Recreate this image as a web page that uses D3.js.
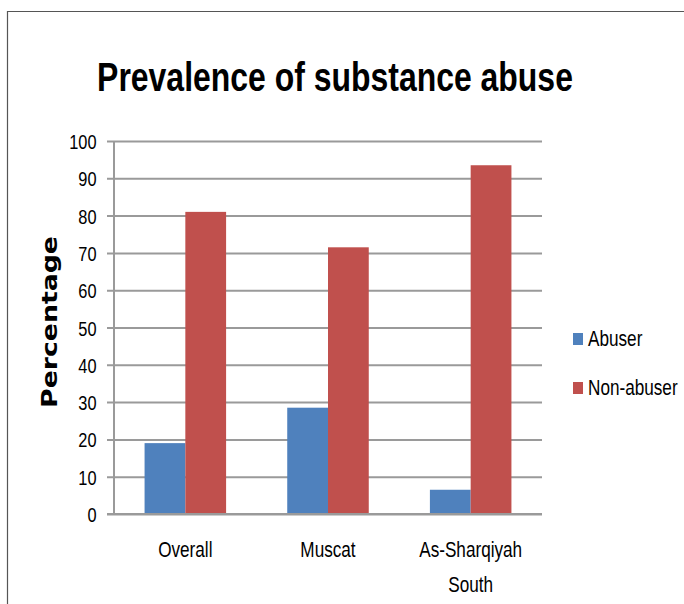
<!DOCTYPE html>
<html>
<head>
<meta charset="utf-8">
<script src="https://cdn.jsdelivr.net/npm/d3@7/dist/d3.min.js"></script>
<style>
  html, body { margin: 0; padding: 0; background: #fff; }
  svg { display: block; }
</style>
</head>
<body>
<svg id="chart" width="684" height="604"></svg>
<script>
// Chart data
const categories = ["Overall", "Muscat", "As-Sharqiyah South"];
const categoryLines = [["Overall"], ["Muscat"], ["As-Sharqiyah", "South"]];
const seriesNames = ["Abuser", "Non-abuser"];
const abuser = [19.0, 28.5, 6.5];
const nonAbuser = [81.0, 71.5, 93.5];
const yTicks = [0, 10, 20, 30, 40, 50, 60, 70, 80, 90, 100];
const colors = ["#4F81BD", "#C0504D"];

const svg = d3.select("#chart");
const sans = "'Liberation Sans', Arial, sans-serif";
const squeeze = 0.78;   // narrow the sans face horizontally

// Outer frame (left and top edges)
svg.append("path")
  .attr("d", "M7.5,604 V11.5 H684")
  .attr("fill", "none")
  .attr("stroke", "#555")
  .attr("stroke-width", 1.2);

const plot = { left: 114, right: 542, top: 141, bottom: 514 };
const gap = 1.5; // gap between groups, as a multiple of one bar width
const inner = gap / (2 + gap);

const x0 = d3.scaleBand().domain(categories).range([plot.left, plot.right])
  .paddingInner(inner).paddingOuter(inner / 2);
const x1 = d3.scaleBand().domain(seriesNames).range([0, x0.bandwidth()]);
const y = d3.scaleLinear().domain([0, 100]).range([plot.bottom, plot.top]);

// Gridlines and value axis
const yAxis = d3.axisLeft(y).tickValues(yTicks).tickSize(-(plot.right - plot.left)).tickSizeOuter(0);
const gy = svg.append("g").attr("transform", `translate(${plot.left},0)`).call(yAxis);
gy.select(".domain").attr("stroke", "#9a9a9a").attr("stroke-width", 2).attr("d", `M0,${plot.top}V${plot.bottom}`);
gy.selectAll(".tick line").attr("stroke", "#9a9a9a").attr("stroke-width", 2).attr("x1", -7);
gy.selectAll(".tick text")
  .attr("x", 0).attr("y", 0).attr("dy", null)
  .attr("transform", `translate(-17.5,7.5) scale(${squeeze},1)`)
  .attr("text-anchor", "end")
  .attr("font-family", sans)
  .attr("font-size", 21)
  .attr("fill", "#000");

// Bars
const rows = categories.map((c, i) => ({ c, vals: [abuser[i], nonAbuser[i]] }));
const groups = svg.append("g").selectAll("g").data(rows).join("g")
  .attr("transform", d => `translate(${x0(d.c)},0)`);
groups.selectAll("rect").data(d => d.vals.map((v, k) => ({ k, v }))).join("rect")
  .attr("x", d => x1(seriesNames[d.k]))
  .attr("width", x1.bandwidth())
  .attr("y", d => y(d.v))
  .attr("height", d => y(0) - y(d.v))
  .attr("fill", d => colors[d.k]);

// Baseline drawn over the bars
svg.append("line")
  .attr("x1", plot.left - 7).attr("x2", plot.right)
  .attr("y1", y(0)).attr("y2", y(0))
  .attr("stroke", "#9a9a9a").attr("stroke-width", 2);

// Category labels (wrapped onto separate lines)
categories.forEach((c, i) => {
  categoryLines[i].forEach((line, j) => {
    svg.append("text")
      .attr("transform", `translate(${x0(c) + x0.bandwidth() / 2},${557 + j * 35}) scale(${squeeze},1)`)
      .attr("text-anchor", "middle")
      .attr("font-family", sans)
      .attr("font-size", 22)
      .attr("fill", "#000")
      .text(line);
  });
});

// Title, narrowed to its set width
const title = svg.append("text")
  .attr("text-anchor", "middle")
  .attr("font-family", sans)
  .attr("font-weight", "bold")
  .attr("font-size", 40)
  .attr("fill", "#000")
  .text("Prevalence of substance abuse");
const titleW = title.node().getComputedTextLength();
title.attr("transform", `translate(335,91) scale(${476 / titleW},1)`);

// Value axis title
const yTitle = svg.append("text")
  .attr("text-anchor", "middle")
  .attr("font-family", "'DejaVu Sans', Verdana, sans-serif")
  .attr("font-weight", "bold")
  .attr("font-size", 22)
  .attr("fill", "#000")
  .text("Percentage");
const yTitleW = yTitle.node().getComputedTextLength();
yTitle.attr("transform", `translate(57,322) rotate(-90) scale(${172 / yTitleW},1)`);

// Legend
const legend = svg.append("g").selectAll("g").data(seriesNames).join("g")
  .attr("transform", (d, i) => `translate(573,${333 + i * 49})`);
legend.append("rect").attr("width", 10).attr("height", 12).attr("fill", (d, i) => colors[i]);
legend.append("text")
  .attr("transform", `translate(15,13) scale(${squeeze},1)`)
  .attr("font-family", sans)
  .attr("font-size", 22)
  .attr("fill", "#000")
  .text(d => d);
</script>
</body>
</html>
